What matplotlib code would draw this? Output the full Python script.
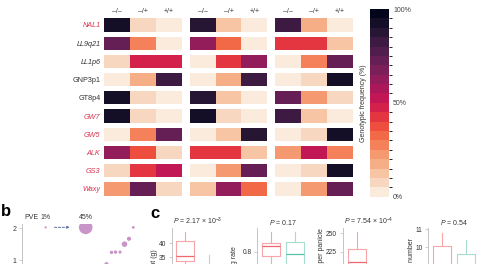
import numpy as np
import matplotlib
matplotlib.use("Agg")
import matplotlib.pyplot as plt
import seaborn as sns
from matplotlib.colors import ListedColormap, BoundaryNorm
from matplotlib.cm import ScalarMappable

plt.rcParams['font.family'] = ['Liberation Sans', 'DejaVu Sans']
plt.rcParams['mathtext.fontset'] = 'custom'
plt.rcParams['mathtext.rm'] = 'Liberation Sans'
plt.rcParams['mathtext.it'] = 'Liberation Sans:italic'

# ---------------- data ----------------
genes = ["NAL1", "LL9q21", "LL1p6", "GNP3p1", "GT8p4", "GW7", "GW5", "ALK", "GS3", "Waxy"]
gene_italic = [True, True, True, False, False, True, True, True, True, True]
gene_red = [True, False, False, False, False, True, True, True, True, True]
genotypes = ["–/–", "–/+", "+/+"]

freq_group1 = [[92, 7, 2], [70, 28, 2], [7, 48, 48], [2, 17, 80], [92, 7, 2],
               [92, 7, 2], [2, 28, 70], [62, 36, 7], [7, 43, 50], [22, 70, 7]]
freq_group2 = [[88, 12, 2], [62, 33, 2], [2, 42, 60], [2, 17, 80], [88, 12, 2],
               [92, 7, 2], [2, 12, 88], [42, 42, 12], [2, 22, 72], [12, 60, 33]]
freq_group3 = [[80, 17, 2], [42, 42, 12], [2, 28, 72], [2, 7, 92], [72, 22, 7],
               [80, 12, 2], [2, 7, 92], [22, 50, 28], [2, 7, 92], [2, 22, 70]]

cbar_ticks = [0, 50, 100]
cbar_ticklabels = ["0%", "50%", "100%"]

# panel b
pve_legend_x = [23.7, 63.7]
pve_legend_y = [2.03, 2.03]
pve_legend_size = [2.5, 95]
pve_legend_text = ["1%", "45%"]
qtl_x = [111.3, 107, 102.5, 98, 93.5, 89.5, 84.5]
qtl_y = [2.03, 1.67, 1.5, 1.25, 1.25, 1.24, 0.87]
qtl_size = [4, 9, 16, 5, 6, 6, 9]

# panel c
box_titles = [r"$P$ = 2.17 × 10$^{-3}$", r"$P$ = 0.17", r"$P$ = 7.54 × 10$^{-4}$", r"$P$ = 0.54"]
box_ylabels = ["Grain weight per plant (g)", "Seed-setting rate", "Grain number per panicle",
               "Primary branch number"]
box_red = [dict(whislo=30, q1=33.7, med=35.5, q3=40.9, whishi=43.9),
           dict(whislo=0.72, q1=0.787, med=0.819, q3=0.828, whishi=0.865),
           dict(whislo=170, q1=195, med=211.4, q3=228.3, whishi=252.2),
           dict(whislo=7, q1=8.0, med=9.0, q3=10.05, whishi=10.8)]
box_teal = [dict(whislo=22, q1=27, med=29, q3=32, whishi=35.8),
            dict(whislo=0.68, q1=0.75, med=0.791, q3=0.831, whishi=0.865),
            dict(whislo=145, q1=165, med=175, q3=185, whishi=195),
            dict(whislo=7, q1=8.0, med=8.8, q3=9.6, whishi=10.4)]
box_yticks = [[35, 40], [0.8], [225, 250], [10, 11]]

# ---------------- figure ----------------
W, H = 485, 264
fig = plt.figure(figsize=(W / 100, H / 100), dpi=100)

def rect(x0, y0, x1, y1):
    return [x0 / W, 1 - y1 / H, (x1 - x0) / W, (y1 - y0) / H]

cmap = ListedColormap(sns.color_palette("rocket_r", as_cmap=True)(np.linspace(0, 1, 20)))
norm = BoundaryNorm(np.linspace(0, 100, 21), cmap.N)

RED = "#d8334f"
DARK = "#333333"

# heatmap
ax = fig.add_axes(rect(104, 18.3, 353, 195.5))
gstep = 3.3
groups = [freq_group1, freq_group2, freq_group3]
rows = np.arange(len(genes))
for g, grp in enumerate(groups):
    arr = np.array(grp, dtype=float)
    for j in range(3):
        ax.barh(rows, 1.0, left=g * gstep + j, height=0.73,
                color=cmap(norm(arr[:, j])), linewidth=0)
ax.set_xlim(0, 2 * gstep + 3)
ax.set_ylim(len(genes) - 1 + 0.365, -0.365)
for s in ax.spines.values():
    s.set_visible(False)
ax.set_yticks(rows)
ax.set_yticklabels(genes)
for lab, it, rd in zip(ax.get_yticklabels(), gene_italic, gene_red):
    lab.set_fontstyle('italic' if it else 'normal')
    lab.set_color(RED if rd else DARK)
    lab.set_fontsize(5.2)
ax.tick_params(axis='y', length=0, pad=2.5)
xt = [g * gstep + j + 0.5 for g in range(3) for j in range(3)]
ax.xaxis.tick_top()
ax.set_xticks(xt)
ax.set_xticklabels(genotypes * 3, fontsize=5, color=DARK)
ax.tick_params(axis='x', length=0, pad=2.5)

# colorbar
cax = fig.add_axes(rect(370, 9, 389, 196.7))
cb = fig.colorbar(ScalarMappable(norm=norm, cmap=cmap), cax=cax)
cb.outline.set_visible(False)
cb.set_ticks(cbar_ticks)
cb.set_ticklabels(cbar_ticklabels)
cax.tick_params(length=0, labelsize=5, labelcolor="#444444", pad=3)
cax.yaxis.set_label_position('left')
cax.set_ylabel("Genotypic frequency (%)", fontsize=5, color=DARK, labelpad=2)

# panel letters
fig.text(1 / W, 1 - 211 / H, "b", fontsize=12, fontweight='bold', va='center', ha='left')
fig.text(150 / W, 1 - 213 / H, "c", fontsize=12, fontweight='bold', va='center', ha='left')

# panel b
PURPLE = "#c994c7"
bx = fig.add_axes(rect(22, 224, 142, 291.7))
bx.set_xlim(0, 120)
bx.set_ylim(0, 2.136)
bx.scatter(pve_legend_x, pve_legend_y, s=pve_legend_size, color=PURPLE, linewidths=0)
for x, y, t in zip(pve_legend_x, pve_legend_y, pve_legend_text):
    bx.text(x, y + 0.2, t, ha='center', va='bottom', fontsize=5, color=DARK)
bx.text(pve_legend_x[0] - 7, pve_legend_y[0] + 0.2, "PVE", ha='right', va='bottom',
        fontsize=5, color=DARK)
bx.annotate("", xy=(pve_legend_x[1] - 13, pve_legend_y[0]), xytext=(pve_legend_x[0] + 6, pve_legend_y[0]),
            arrowprops=dict(arrowstyle='-|>', linestyle=(0, (2, 1.5)), color="#7080a8",
                            lw=0.8, mutation_scale=3.5))
bx.scatter(qtl_x, qtl_y, s=qtl_size, color=PURPLE, linewidths=0)
for s in ['top', 'right', 'bottom']:
    bx.spines[s].set_visible(False)
bx.spines['left'].set_color("#bbbbbb")
bx.spines['left'].set_linewidth(0.6)
bx.set_xticks([])
bx.set_yticks([1, 2])
bx.tick_params(axis='y', length=2, width=0.5, color="#bbbbbb", labelsize=5, labelcolor=DARK, pad=2)

# panel c
spines_px = [171.5, 257, 342.7, 428.3]
refs = [(40, 243.3, 2.8, 20), (0.8, 251.7, 300, 0.6), (225, 251.7, 0.736, 150), (10, 247, 18, 7)]
label_tops = [249, 246, 228, 238]
label_dx = [-16.5, -22, -21, -16.5]
REDL, REDM = "#f9a4a8", "#f2666f"
TEALL, TEALM = "#a6ddd0", "#55c2a6"
for k in range(4):
    vref, pref, ppu, vbot = refs[k]
    top_px = 228
    vtop = vref + (pref - top_px) / ppu
    bot_px = pref + (vref - vbot) * ppu
    x0 = spines_px[k]
    cx = fig.add_axes(rect(x0, top_px, x0 + 52, bot_px))
    cx.set_ylim(vbot, vtop)
    cx.set_xlim(-0.583, -0.583 + 52 / 24)
    for st, pos, edge, med in [(box_red[k], 0, REDL, REDM), (box_teal[k], 1, TEALL, TEALM)]:
        cx.bxp([dict(st)], positions=[pos], widths=0.75, showfliers=False, showcaps=False,
               boxprops=dict(color=edge, lw=0.8), whiskerprops=dict(color=edge, lw=0.8),
               medianprops=dict(color=med, lw=0.9))
    for s in ['top', 'right', 'bottom']:
        cx.spines[s].set_visible(False)
    cx.spines['left'].set_color("#bbbbbb")
    cx.spines['left'].set_linewidth(0.6)
    cx.set_xticks([])
    cx.set_yticks(box_yticks[k])
    cx.tick_params(axis='y', length=2, width=0.5, color="#bbbbbb", labelsize=4.8,
                   labelcolor=DARK, pad=2)
    cx.set_title(box_titles[k], fontsize=5, color=DARK, pad=2.5)
    fig.text((x0 + label_dx[k]) / W, 1 - label_tops[k] / H, box_ylabels[k], rotation=90,
             ha='center', va='top', fontsize=5, color=DARK)

fig.savefig("out.png", dpi=100)
